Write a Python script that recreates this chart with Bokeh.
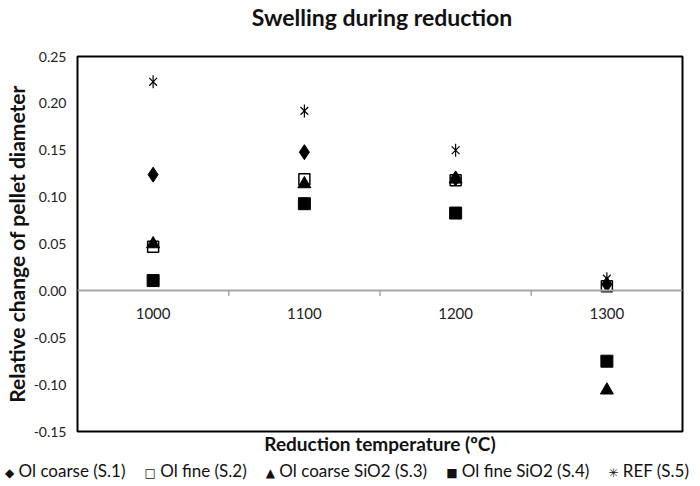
import math
from bokeh.plotting import figure
from bokeh.layouts import column
from bokeh.models import (FactorRange, Range1d, FixedTicker, PrintfTickFormatter,
                          ColumnDataSource, CategoricalAxis, Div)
from bokeh.embed import file_html
from bokeh.resources import INLINE

# ---- data ----
temps = ["1000", "1100", "1200", "1300"]
s1_ol_coarse = [0.124, 0.148, 0.120, 0.007]
s2_ol_fine = [0.047, 0.119, 0.118, 0.005]
s3_ol_coarse_sio2 = [0.050, 0.114, 0.119, -0.106]
s4_ol_fine_sio2 = [0.011, 0.093, 0.083, -0.075]
s5_ref = [0.223, 0.192, 0.150, 0.013]
series_labels = ["Ol coarse (S.1)", "Ol fine (S.2)", "Ol coarse SiO2 (S.3)",
                 "Ol fine SiO2 (S.4)", "REF (S.5)"]
legend_symbols = ["\u25c6", "\u25a1", "\u25b2", "\u25a0", "\u2733"]
y_ticks = [-0.15, -0.10, -0.05, 0.00, 0.05, 0.10, 0.15, 0.20, 0.25]
chart_title = "Swelling during reduction"

FONT = "Lato"

title_div = Div(
    text=(f'<div style="width:614px;margin-left:70px;text-align:center;font-family:Lato;'
          f'font-weight:bold;font-size:23px;line-height:24px;color:#111111;'
          f'white-space:nowrap">{chart_title}</div>'),
    width=684, height=26)

p = figure(width=684, height=421, x_range=FactorRange(*temps),
           y_range=Range1d(-0.15, 0.25), output_backend="svg",
           toolbar_location=None, min_border_left=0, min_border_right=2,
           min_border_top=20, min_border_bottom=0)

p.outline_line_color = "black"
p.outline_line_width = 2
p.outline_line_alpha = 1
p.xgrid.visible = False
p.ygrid.visible = False

# y axis
ya = p.yaxis[0]
ya.ticker = FixedTicker(ticks=y_ticks)
ya.formatter = PrintfTickFormatter(format="%.2f")
ya.axis_line_color = None
ya.major_tick_line_color = None
ya.minor_tick_line_color = None
ya.major_tick_out = 0
ya.major_label_standoff = 11
ya.major_label_text_font = FONT
ya.major_label_text_font_size = "14px"
ya.major_label_text_color = "#222222"
ya.axis_label = "Relative change of pellet diameter"
ya.axis_label_text_font = FONT
ya.axis_label_text_font_size = "21px"
ya.axis_label_text_font_style = "bold"
ya.axis_label_text_color = "#111111"
ya.axis_label_standoff = 2

# bottom axis: only carries the axis title
xb = p.xaxis[0]
xb.ticker = FixedTicker(ticks=[])
xb.axis_line_color = None
xb.major_tick_line_color = None
xb.minor_tick_line_color = None
xb.major_label_standoff = 0
xb.major_tick_out = 0
xb.major_tick_in = 0
xb.axis_label = "Reduction temperature (\u00baC)"
xb.axis_label_text_font = FONT
xb.axis_label_text_font_size = "19px"
xb.axis_label_text_font_style = "bold"
xb.axis_label_text_color = "#111111"
xb.axis_label_standoff = 0

# category axis at y = 0
xa = CategoricalAxis(fixed_location=0)
xa.axis_line_color = "#a6a6a6"
xa.axis_line_width = 2
xa.major_tick_line_color = None
xa.minor_tick_line_color = None
xa.major_tick_out = 0
xa.major_label_standoff = 17
xa.major_label_text_font = FONT
xa.major_label_text_font_size = "15px"
xa.major_label_text_color = "#222222"
p.add_layout(xa, "below")

# tick marks between categories
tick_src = ColumnDataSource(dict(x=[(t, 0.5) for t in temps[:-1]], y=[0] * (len(temps) - 1)))
p.ray(x="x", y="y", source=tick_src, length=5, length_units="screen",
      angle=-math.pi / 2, line_color="#a6a6a6", line_width=1.5)

# drawing order: S.2, S.1, S.3, S.4, S.5
p.scatter(temps, s2_ol_fine, marker="square", size=11, fill_color="white",
          line_color="black", line_width=1.5)
p.scatter(temps, s1_ol_coarse, marker="diamond", size=15, fill_color="black", line_color="black")
p.scatter(temps, s3_ol_coarse_sio2, marker="triangle", size=13, fill_color="black", line_color="black")
p.scatter(temps, s4_ol_fine_sio2, marker="square", size=12, fill_color="black", line_color="black")
p.scatter(temps, s5_ref, marker="x", size=11, line_color="black", line_width=1.2)
p.scatter(temps, s5_ref, marker="dash", size=13, angle=math.pi / 2,
          line_color="black", line_width=1.2)

# ---- legend strip ----
spans = "".join(
    f'<span><span style="font-family:\'DejaVu Sans\';font-size:12px">{sym}</span> {lab}</span>'
    for sym, lab in zip(legend_symbols, series_labels))
html = (f'<div style="display:flex;justify-content:space-between;align-items:center;'
        f'width:684px;font-family:Lato;font-size:17px;line-height:18px;color:#111111;'
        f'white-space:nowrap">{spans}</div>')
leg = Div(text=html, width=684, height=19)

layout = column(title_div, p, leg, spacing=0)
open("out.html", "w").write(file_html(layout, INLINE))
